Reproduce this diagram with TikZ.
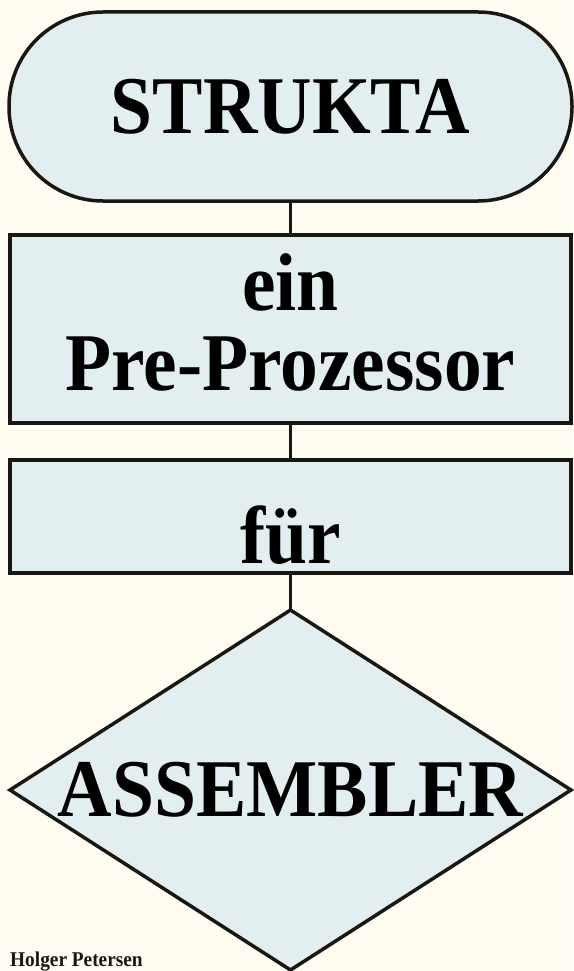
\documentclass[tikz,border=0pt]{standalone}
\usepackage{fontspec}
\setmainfont{Liberation Serif}
\newfontfamily\flowfont{Liberation Serif}[FakeStretch=0.92]
\usetikzlibrary{shapes.geometric, positioning}
\definecolor{paper}{RGB}{255,253,241}
\definecolor{boxfill}{RGB}{227,238,240}
\definecolor{ink}{RGB}{26,22,18}

\begin{document}
\begin{tikzpicture}[x=1pt, y=-1pt,
    term/.style={rectangle, draw=ink, line width=3.5pt, rounded corners=94pt, fill=boxfill, outer sep=0pt, inner sep=0pt, minimum width=563pt, minimum height=189pt, font=\flowfont\bfseries\fontsize{82}{82}\selectfont},
    proc/.style={rectangle, draw=ink, line width=3.5pt, fill=boxfill, outer sep=0pt, inner sep=0pt, minimum width=561pt, align=center, font=\flowfont\bfseries\fontsize{82}{80}\selectfont},
    decision/.style={diamond, draw=ink, line width=3.5pt, fill=boxfill, outer sep=0pt, inner sep=0pt, aspect=1.56, minimum width=561pt, minimum height=360pt, font=\flowfont\bfseries\fontsize{82}{82}\selectfont},
    link/.style={draw=ink, line width=3.5pt}]
    \fill[paper] (0,0) rectangle (573,971);
    \useasboundingbox (0,0) rectangle (573,971);
    \node[term] (strukta) at (290.5,106.5) {STRUKTA};
    \node[proc, below=34pt of strukta, minimum height=188pt, text depth=14pt] (pre) {ein\\Pre-Prozessor};
    \node[proc, below=37pt of pre, minimum height=113pt, text height=95pt] (fuer) {für};
    \node[decision, below=37pt of fuer] (asm) {ASSEMBLER};
    \node[anchor=base west, inner sep=0pt, font=\flowfont\bfseries\fontsize{21}{21}\selectfont, text=ink] (author) at (10,966) {Holger Petersen};
    \draw[link] (strukta) -- (pre); \draw[link] (pre) -- (fuer); \draw[link] (fuer) -- (asm);
\end{tikzpicture}
\end{document}
